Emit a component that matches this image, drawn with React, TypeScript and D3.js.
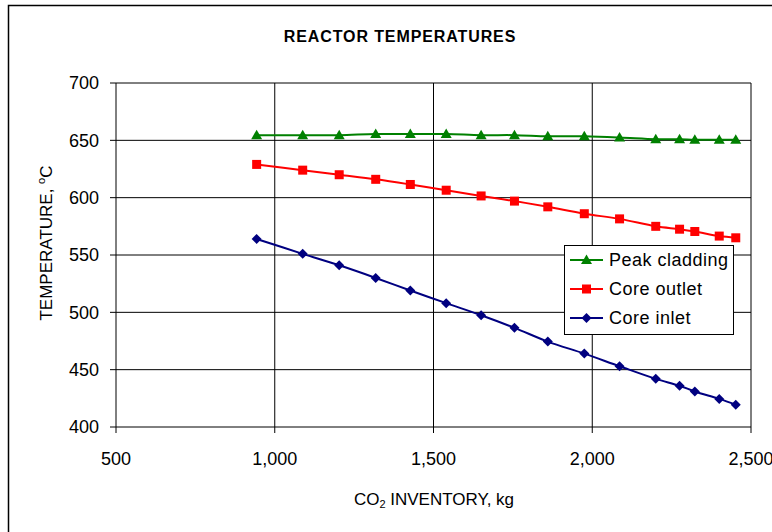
import React from "react";
import * as d3 from "d3";

const inventory = [943, 1088, 1203, 1318, 1427, 1540, 1650, 1755, 1860, 1975, 2086, 2200, 2275, 2323, 2400, 2452];
const peakCladding = [654.5, 654.5, 654.5, 655.5, 655.5, 655.5, 654.5, 654.5, 653.5, 653.5, 652.5, 651, 651, 650.5, 650.5, 650.5];
const coreOutlet = [629, 624, 620, 616, 611.5, 606.5, 601.5, 597, 592, 586, 581.5, 575, 572.5, 570.5, 566.5, 565];
const coreInlet = [564, 551, 541, 530, 519, 508, 497.5, 486.5, 474.5, 464, 453, 442, 436, 431, 424.5, 419.5];
const xTicks = [500, 1000, 1500, 2000, 2500];
const yTicks = [400, 450, 500, 550, 600, 650, 700];
const seriesNames = ["Peak cladding", "Core outlet", "Core inlet"];

const FONT = "'Liberation Sans', Arial, sans-serif";

type Shape = "triangle" | "square" | "diamond";

function Marker({ x, y, shape, color }: { x: number; y: number; shape: Shape; color: string }) {
  if (shape === "square") {
    return <rect x={x - 4.5} y={y - 4.5} width={9} height={9} fill={color} />;
  }
  if (shape === "triangle") {
    return <path d={`M${x},${y - 5.5} L${x + 5.5},${y + 4} L${x - 5.5},${y + 4} Z`} fill={color} />;
  }
  return <path d={`M${x},${y - 5} L${x + 5},${y} L${x},${y + 5} L${x - 5},${y} Z`} fill={color} />;
}

export default function App() {
  const W = 772, H = 532;
  const x = d3.scaleLinear().domain([500, 2500]).range([116, 751]);
  const y = d3.scaleLinear().domain([400, 700]).range([427, 83]);
  const fmt = d3.format(",");

  const series = [
    { name: seriesNames[0], values: peakCladding, color: "#008000", shape: "triangle" as Shape },
    { name: seriesNames[1], values: coreOutlet, color: "#FF0000", shape: "square" as Shape },
    { name: seriesNames[2], values: coreInlet, color: "#000080", shape: "diamond" as Shape },
  ];

  const line = d3
    .line<[number, number]>()
    .x((d) => x(d[0]))
    .y((d) => y(d[1]))
    .curve(d3.curveCatmullRom.alpha(0.5));

  const left = x(500), right = x(2500), top = y(700), bottom = y(400);

  return (
    <svg width={W} height={H} style={{ position: "absolute", left: 0, top: 0, display: "block", background: "#fff" }}>
      <rect x={8.5} y={5.5} width={900} height={700} fill="#fff" stroke="#000" strokeWidth={1.5} />
      <text x={400} y={42} textAnchor="middle" fontFamily={FONT} fontWeight="bold" fontSize={16} letterSpacing={0.9}>
        REACTOR TEMPERATURES
      </text>

      {/* gridlines */}
      {yTicks.filter((t) => t !== 400).map((t) => (
        <line key={"gy" + t} x1={left} x2={right} y1={y(t)} y2={y(t)} stroke="#000" strokeWidth={1} />
      ))}
      {xTicks.filter((t) => t !== 500).map((t) => (
        <line key={"gx" + t} x1={x(t)} x2={x(t)} y1={top} y2={bottom} stroke="#000" strokeWidth={1} />
      ))}
      {/* axes */}
      <line x1={left} x2={left} y1={top} y2={bottom} stroke="#000" strokeWidth={1} />
      <line x1={left} x2={right} y1={bottom} y2={bottom} stroke="#000" strokeWidth={1} />
      {yTicks.map((t) => (
        <g key={"yt" + t}>
          <line x1={left - 6} x2={left} y1={y(t)} y2={y(t)} stroke="#000" />
          <text x={99} y={y(t)} dy="0.36em" textAnchor="end" fontFamily={FONT} fontSize={18}>
            {t}
          </text>
        </g>
      ))}
      {xTicks.map((t) => (
        <g key={"xt" + t}>
          <line x1={x(t)} x2={x(t)} y1={bottom} y2={bottom + 6} stroke="#000" />
          <text x={x(t)} y={465} textAnchor="middle" fontFamily={FONT} fontSize={18}>
            {fmt(t)}
          </text>
        </g>
      ))}

      {/* axis titles */}
      <text x={434} y={505} textAnchor="middle" fontFamily={FONT} fontSize={17}>
        CO<tspan fontSize={11} dy={3}>2</tspan>
        <tspan dy={-3}> INVENTORY, kg</tspan>
      </text>
      <text transform={`translate(52,${243}) rotate(-90)`} textAnchor="middle" fontFamily={FONT} fontSize={17}>
        TEMPERATURE, <tspan fontSize={11} dy={-7}>o</tspan>
        <tspan dy={7}>C</tspan>
      </text>

      {/* series */}
      {series.map((s) => {
        const pts: [number, number][] = inventory.map((v, i) => [v, s.values[i]]);
        return (
          <g key={s.name}>
            <path d={line(pts) || ""} fill="none" stroke={s.color} strokeWidth={2} />
            {pts.map((p, i) => (
              <Marker key={i} x={x(p[0])} y={y(p[1])} shape={s.shape} color={s.color} />
            ))}
          </g>
        );
      })}

      {/* legend */}
      <g>
        <rect x={564.5} y={245.5} width={169} height={89} fill="#fff" stroke="#000" strokeWidth={1} />
        {series.map((s, i) => {
          const ly = 260 + i * 29;
          return (
            <g key={"lg" + s.name}>
              <line x1={570} x2={603} y1={ly} y2={ly} stroke={s.color} strokeWidth={2} />
              <Marker x={586.5} y={ly} shape={s.shape} color={s.color} />
              <text x={609} y={ly} dy="0.36em" fontFamily={FONT} fontSize={18} letterSpacing={0.5}>
                {s.name}
              </text>
            </g>
          );
        })}
      </g>
    </svg>
  );
}
